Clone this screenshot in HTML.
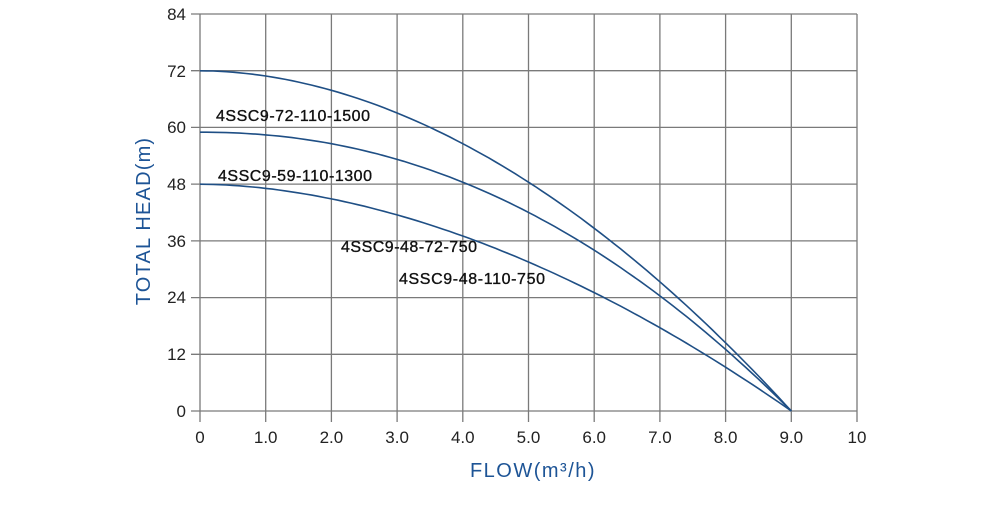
<!DOCTYPE html>
<html><head><meta charset="utf-8"><style>body{margin:0;background:#fff}</style></head><body>
<svg width="1000" height="500" xmlns="http://www.w3.org/2000/svg" font-family="Liberation Sans, sans-serif">
<g stroke="#7a7a7a" stroke-width="1.3">
<line x1="200" y1="14" x2="200" y2="422"/><line x1="265.7" y1="14" x2="265.7" y2="422"/><line x1="331.4" y1="14" x2="331.4" y2="422"/><line x1="397.1" y1="14" x2="397.1" y2="422"/><line x1="462.8" y1="14" x2="462.8" y2="422"/><line x1="528.5" y1="14" x2="528.5" y2="422"/><line x1="594.2" y1="14" x2="594.2" y2="422"/><line x1="659.9" y1="14" x2="659.9" y2="422"/><line x1="725.6" y1="14" x2="725.6" y2="422"/><line x1="791.3" y1="14" x2="791.3" y2="422"/><line x1="857" y1="14" x2="857" y2="422"/>
<line x1="191" y1="14" x2="857" y2="14"/><line x1="191" y1="70.7" x2="857" y2="70.7"/><line x1="191" y1="127.4" x2="857" y2="127.4"/><line x1="191" y1="184.1" x2="857" y2="184.1"/><line x1="191" y1="240.9" x2="857" y2="240.9"/><line x1="191" y1="297.6" x2="857" y2="297.6"/><line x1="191" y1="354.3" x2="857" y2="354.3"/><line x1="191" y1="411" x2="857" y2="411"/>
</g>
<g font-size="17" fill="#222" text-anchor="end">
<text x="186" y="20">84</text><text x="186" y="77">72</text><text x="186" y="133">60</text><text x="186" y="190">48</text><text x="186" y="247">36</text><text x="186" y="303">24</text><text x="186" y="360">12</text><text x="186" y="417">0</text>
</g>
<g font-size="17" fill="#222" text-anchor="middle">
<text x="200" y="443">0</text><text x="265.7" y="443">1.0</text><text x="331.4" y="443">2.0</text><text x="397.1" y="443">3.0</text><text x="462.8" y="443">4.0</text><text x="528.5" y="443">5.0</text><text x="594.2" y="443">6.0</text><text x="659.9" y="443">7.0</text><text x="725.6" y="443">8.0</text><text x="791.3" y="443">9.0</text><text x="857" y="443">10</text>
</g>
<text x="533" y="477" font-size="20" letter-spacing="1.5" fill="#1d5496" text-anchor="middle">FLOW(m³/h)</text>
<text transform="translate(150,221) rotate(-90)" font-size="20" letter-spacing="1.2" fill="#1d5496" text-anchor="middle">TOTAL HEAD(m)</text>
<g fill="none" stroke="#1f4f85" stroke-width="1.6" id="c"></g>
<g font-size="16" fill="#111" stroke="#111" stroke-width="0.35">
<text x="216" y="121" textLength="154">4SSC9-72-110-1500</text>
<text x="218" y="181" textLength="154">4SSC9-59-110-1300</text>
<text x="341" y="252" textLength="136">4SSC9-48-72-750</text>
<text x="399" y="284" textLength="146">4SSC9-48-110-750</text>
</g>
<script>
var g=document.getElementById('c');
[[72,1.9],[59,2.12],[48,1.82]].forEach(function(p){var d='';for(var i=0;i<=90;i++){var q=i/10,H=p[0]*(1-Math.pow(q/9,p[1]));d+=(i?'L':'M')+(200+q*65.7).toFixed(1)+','+(411-H*4.725).toFixed(1);}
var e=document.createElementNS('http://www.w3.org/2000/svg','path');e.setAttribute('d',d);g.appendChild(e);});
</script>
</svg>
</body></html>
